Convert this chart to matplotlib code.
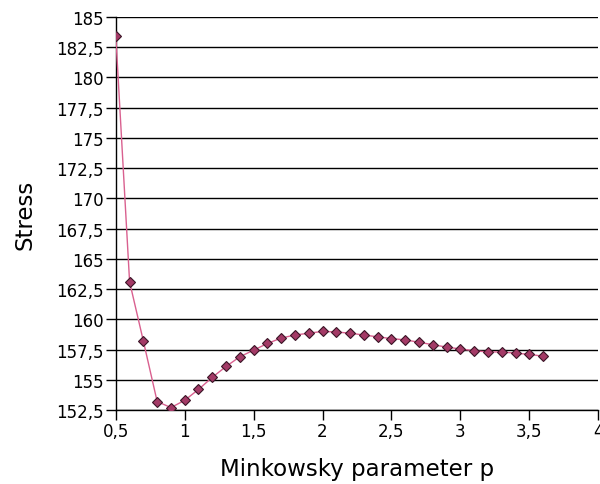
import matplotlib
matplotlib.use("Agg")
import matplotlib.pyplot as plt
from matplotlib.ticker import FuncFormatter, MultipleLocator

# Minkowsky parameter and resulting stress
p = [0.5, 0.6, 0.7, 0.8, 0.9, 1.0, 1.1, 1.2, 1.3, 1.4, 1.5, 1.6, 1.7, 1.8, 1.9, 2.0,
     2.1, 2.2, 2.3, 2.4, 2.5, 2.6, 2.7, 2.8, 2.9, 3.0, 3.1, 3.2, 3.3, 3.4, 3.5, 3.6]
stress = [183.45, 163.1, 158.2, 153.2, 152.7, 153.3, 154.2, 155.2, 156.1, 156.9,
          157.45, 158.0, 158.45, 158.7, 158.85, 159.0, 158.95, 158.85, 158.7, 158.55,
          158.4, 158.3, 158.1, 157.9, 157.7, 157.55, 157.4, 157.3, 157.3, 157.2,
          157.1, 156.95]


def comma(v, _pos):
    s = f"{v:g}"
    return s.replace(".", ",")


fig = plt.figure(figsize=(6.0, 4.85), dpi=100)
ax = fig.add_axes([0.193, 0.1526, 0.804, 0.8103])

ax.plot(p, stress, color="#d9608f", linewidth=1.0, zorder=3)
ax.plot(p, stress, linestyle="none", marker="D", markersize=5,
        markerfacecolor="#a33a66", markeredgecolor="#3a1526",
        markeredgewidth=0.8, zorder=4)

ax.set_xlim(0.5, 4)
ax.set_ylim(152.5, 185)
ax.xaxis.set_major_locator(MultipleLocator(0.5))
ax.yaxis.set_major_locator(MultipleLocator(2.5))
ax.xaxis.set_major_formatter(FuncFormatter(comma))
ax.yaxis.set_major_formatter(FuncFormatter(comma))

ax.grid(axis="y", color="black", linewidth=1.0)
ax.set_axisbelow(True)
for side in ("top", "right"):
    ax.spines[side].set_visible(False)
for side in ("left", "bottom"):
    ax.spines[side].set_linewidth(1.0)
ax.tick_params(direction="out", length=7, width=1.0, labelsize=12, colors="black")
ax.tick_params(axis="y", pad=2)
ax.tick_params(axis="x", pad=2)

ax.set_xlabel("Minkowsky parameter p", fontsize=16.5, labelpad=12)
ax.set_ylabel("Stress", fontsize=16.5, labelpad=14)

fig.savefig("out.png", dpi=100)
